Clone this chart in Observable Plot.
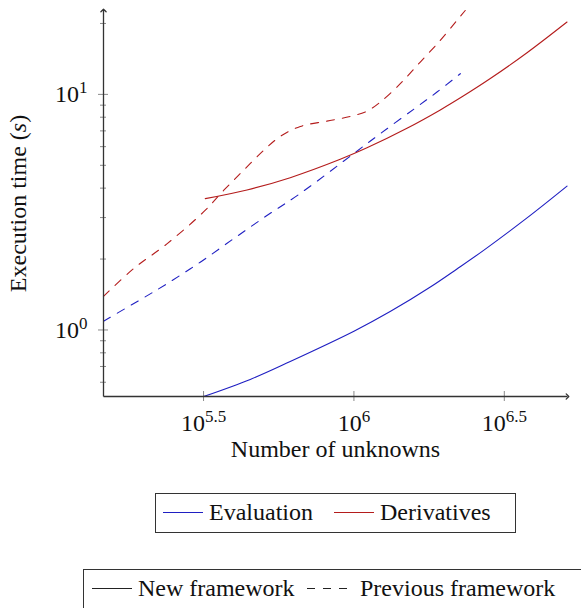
<!DOCTYPE html>
<html><head><meta charset="utf-8">
<script src="https://cdn.jsdelivr.net/npm/d3@7"></script>
<script src="https://cdn.jsdelivr.net/npm/@observablehq/plot@0.6"></script>
<style>
body{margin:0;background:#fff;}
#wrap{position:relative;width:581px;height:608px;overflow:hidden;font-family:"Liberation Serif",serif;}
#legend{position:absolute;left:0;top:0;pointer-events:none;}
</style></head><body><div id="wrap"></div>
<script>
// ---- data (number of unknowns, execution time in s) ----
const seriesNames = ["Evaluation", "Derivatives"];
const frameworkNames = ["New framework", "Previous framework"];
const seriesColors = ["#1f1fc2", "#b41c1c"];

const evalNewN = [316228, 452100, 614000, 1000000, 1324000, 1795000, 2201000, 2699000, 3763000, 5111000];
const evalNewT = [0.522, 0.617, 0.735, 0.988, 1.20, 1.522, 1.816, 2.178, 2.99, 4.08];

const derivNewN = [320400, 440900, 614000, 900500, 1105000, 1501000, 1937000, 2316000, 2841000, 3763000, 5111000];
const derivNewT = [3.61, 3.93, 4.43, 5.30, 5.93, 7.18, 8.59, 9.86, 11.67, 15.02, 20.28];

const evalPrevN = [147000, 194800, 238900, 308300, 398000, 513700, 663300, 997200, 1223000, 1579000, 1889000, 2258000];
const evalPrevT = [1.09, 1.344, 1.571, 1.94, 2.44, 3.06, 3.80, 5.60, 6.81, 8.64, 10.23, 12.24];

const derivPrevN = [147000, 185000, 238900, 316228, 368600, 429500, 500600, 568900, 663300, 812800, 972500, 1105000, 1223000, 1426000, 1662000, 1937000, 2201000, 2344000];
const derivPrevT = [1.388, 1.82, 2.32, 3.17, 3.91, 4.76, 5.78, 6.63, 7.31, 7.70, 8.06, 8.49, 9.27, 11.10, 13.72, 16.96, 20.62, 22.7];

// axis limits and ticks
const xDomain = [147000, 5130000];
const yDomain = [0.522, 22.7];
const xTicks = [Math.pow(10, 5.5), 1e6, Math.pow(10, 6.5)];
const yMajor = [1, 10];
const yMinor = [0.6, 0.7, 0.8, 0.9, 2, 3, 4, 5, 6, 7, 8, 9, 20];
const xLabel = "Number of unknowns";
const yLabel = "Execution time (s)";

function rows(ns, ts, series, framework) {
  return ns.map((n, i) => ({n, t: ts[i], series, framework}));
}
const newRows = [
  ...rows(evalNewN, evalNewT, seriesNames[0], frameworkNames[0]),
  ...rows(derivNewN, derivNewT, seriesNames[1], frameworkNames[0])
];
const prevRows = [
  ...rows(evalPrevN, evalPrevT, seriesNames[0], frameworkNames[1]),
  ...rows(derivPrevN, derivPrevT, seriesNames[1], frameworkNames[1])
];

const fmt = d => "10^" + (+Math.log10(d).toFixed(1));
const axisColor = "#333";
const tickColor = "#8a8a8a";

const chart = Plot.plot({
  width: 581,
  height: 470,
  marginLeft: 103,
  marginRight: 14,
  marginTop: 10,
  marginBottom: 74,
  style: {fontFamily: "'Liberation Serif', serif", fontSize: "24px", background: "white", color: "#111"},
  x: {type: "log", domain: xDomain},
  y: {type: "log", domain: yDomain},
  color: {domain: seriesNames, range: seriesColors},
  marks: [
    Plot.axisX(xTicks, {tickSize: 10, dy: -5, tickFormat: () => "", stroke: tickColor, label: null}),
    Plot.axisX(xTicks, {tickSize: 0, tickPadding: 17, tickFormat: fmt, label: null, fill: "#111"}),
    Plot.axisY(yMinor, {tickSize: 6, dx: 3, tickFormat: () => "", stroke: tickColor, label: null}),
    Plot.axisY(yMajor, {tickSize: 10, dx: 5, tickFormat: () => "", stroke: tickColor, label: null}),
    Plot.axisY(yMajor, {tickSize: 0, tickPadding: 16, tickFormat: fmt, label: null, fill: "#111"}),
    Plot.line(prevRows, {x: "n", y: "t", z: "series", stroke: "series", strokeWidth: 1.1, strokeDasharray: "8,8", curve: "catmull-rom"}),
    Plot.line(newRows, {x: "n", y: "t", z: "series", stroke: "series", strokeWidth: 1.1, curve: "catmull-rom"}),
    Plot.link([0], {x1: () => xDomain[0], x2: () => xDomain[1], y1: () => yDomain[0], y2: () => yDomain[0], stroke: axisColor, strokeWidth: 1.3, markerEnd: "arrow"}),
    Plot.link([0], {x1: () => xDomain[0], x2: () => xDomain[0], y1: () => yDomain[0], y2: () => yDomain[1], stroke: axisColor, strokeWidth: 1.3, markerEnd: "arrow"}),
    Plot.text([xLabel], {text: d => d, frameAnchor: "bottom", lineAnchor: "middle", textAnchor: "middle", dy: 53, fill: "#111"}),
    Plot.text([yLabel], {text: d => d, frameAnchor: "left", lineAnchor: "middle", textAnchor: "middle", dx: -85, rotate: -90, fill: "#111"})
  ]
});

// superscripts and italic math
chart.querySelectorAll("text").forEach(t => {
  const s = t.textContent;
  const ns = "http://www.w3.org/2000/svg";
  if (s.includes("^")) {
    const [b, e] = s.split("^");
    t.textContent = "";
    const t1 = document.createElementNS(ns, "tspan"); t1.textContent = b;
    const t2 = document.createElementNS(ns, "tspan"); t2.textContent = e;
    t2.setAttribute("dy", "-9"); t2.setAttribute("font-size", "17px");
    t.appendChild(t1); t.appendChild(t2);
  } else if (s === yLabel) {
    t.textContent = "";
    const a = document.createElementNS(ns, "tspan"); a.textContent = "Execution time (";
    const b = document.createElementNS(ns, "tspan"); b.textContent = "s"; b.setAttribute("font-style", "italic");
    const c = document.createElementNS(ns, "tspan"); c.textContent = ")";
    t.appendChild(a); t.appendChild(b); t.appendChild(c);
  }
});

const wrap = document.getElementById("wrap");
wrap.appendChild(chart);

// legends (below the plot)
const L = d3.select(wrap).append("svg").attr("id", "legend").attr("width", 581).attr("height", 608)
  .style("font-family", "'Liberation Serif', serif").style("font-size", "24px");
// legend 1: series colours
L.append("rect").attr("x", 155.5).attr("y", 493.5).attr("width", 360).attr("height", 39)
  .attr("fill", "white").attr("stroke", axisColor).attr("stroke-width", 1);
const leg1 = [{x: 163, tx: 209}, {x: 334, tx: 380}];
seriesNames.forEach((name, i) => {
  L.append("line").attr("x1", leg1[i].x).attr("x2", leg1[i].x + 40).attr("y1", 512.5).attr("y2", 512.5)
    .attr("stroke", seriesColors[i]).attr("stroke-width", 1.1);
  L.append("text").attr("x", leg1[i].tx).attr("y", 519.5).attr("fill", "#111").text(name);
});
// legend 2: line styles
L.append("rect").attr("x", 83.5).attr("y", 569.5).attr("width", 560).attr("height", 80)
  .attr("fill", "white").attr("stroke", axisColor).attr("stroke-width", 1);
const leg2 = [{x: 92, tx: 138, dash: null}, {x: 307, tx: 360, dash: "8,8"}];
frameworkNames.forEach((name, i) => {
  const ln = L.append("line").attr("x1", leg2[i].x).attr("x2", leg2[i].x + 40).attr("y1", 588.5).attr("y2", 588.5)
    .attr("stroke", "#222").attr("stroke-width", 1.1);
  if (leg2[i].dash) ln.attr("stroke-dasharray", leg2[i].dash);
  L.append("text").attr("x", leg2[i].tx).attr("y", 596).attr("fill", "#111").text(name);
});
</script>
</body></html>
